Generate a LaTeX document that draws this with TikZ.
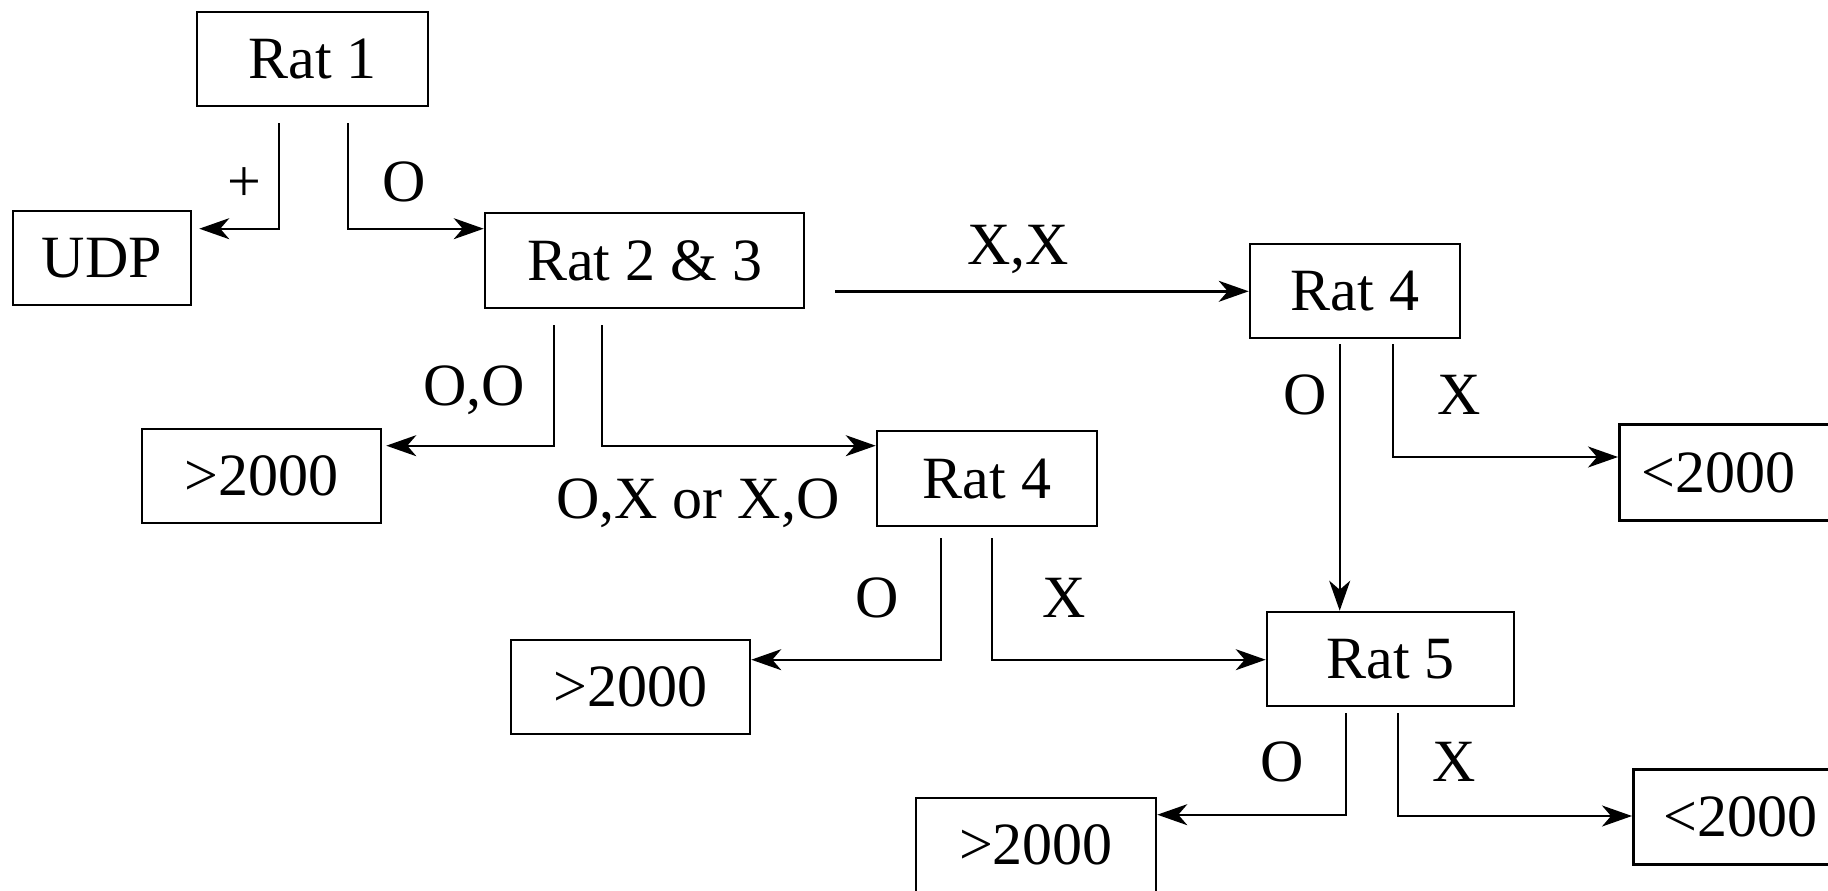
\documentclass[tikz,border=0pt]{standalone}
\usepackage{fontspec}
\setmainfont{Liberation Serif}
\usetikzlibrary{arrows.meta}
\begin{document}
\begin{tikzpicture}[x=1pt,y=-1pt,
  bigfont/.style={font=\fontsize{60}{72}\selectfont},
  box/.style={draw, line width=2.6pt, bigfont, inner sep=0pt, text depth=0pt, minimum height=94pt},
  lbl/.style={bigfont, inner sep=0pt, text depth=0pt},
  arr/.style={line width=2.4pt, -{Stealth[length=30pt,width=21pt,inset=9pt]}}]
\path[use as bounding box] (0,0) rectangle (1828,891);
\clip (0,0) rectangle (1828,891);
% boxes
\node[box, minimum width=231pt] (rat1) at (312.5,59) {Rat 1};
\node[box, minimum width=178pt] (udp) at (102,258) {UDP};
\node[box, minimum width=319pt, minimum height=95pt] (rat23) at (644.5,260.5) {Rat 2 \& 3};
\node[box, minimum width=210pt] (rat4a) at (1355,291) {Rat 4};
\node[box, minimum width=239pt] (g1) at (261.5,476) {>2000};
\node[box, minimum width=220pt, minimum height=95pt] (rat4b) at (987,478.5) {Rat 4};
\node[box, anchor=north west, minimum height=96pt, inner xsep=22pt, text width=320pt, align=left] (l1) at (1618,423) {<2000};
\node[box, minimum width=239pt] (g2) at (630.5,687) {>2000};
\node[box, minimum width=247pt] (rat5) at (1390.5,659) {Rat 5};
\node[box, minimum width=240pt] (g3) at (1036,845) {>2000};
\node[box, anchor=north west, minimum height=95pt, inner xsep=30pt, text width=320pt, align=left] (l2) at (1632,768) {<2000};
% connectors
\draw[arr, shorten >=7pt] ([xshift=83pt,yshift=-16pt]rat1.south west) |- ([yshift=-19pt]udp.north east);
\draw[arr] ([xshift=152pt,yshift=-16pt]rat1.south west) |- ([yshift=-17pt]rat23.north west);
\coordinate (s3) at ([xshift=30pt,yshift=18pt]rat23.south east);
\draw[arr] (s3) -- (s3 -| rat4a.west);
\draw[arr, shorten >=4pt] ([xshift=70pt,yshift=-16pt]rat23.south west) |- ([yshift=-18pt]g1.north east);
\draw[arr] ([xshift=118pt,yshift=-16pt]rat23.south west) |- ([yshift=-16pt]rat4b.north west);
\draw[arr] ([xshift=65pt,yshift=-11pt]rat4b.south west) |- ([yshift=-21pt]g2.north east);
\draw[arr] ([xshift=116pt,yshift=-11pt]rat4b.south west) |- ([yshift=-49pt]rat5.north west);
\coordinate (s8) at ([xshift=91pt,yshift=-5pt]rat4a.south west);
\draw[arr] (s8) -- (s8 |- rat5.north);
\draw[arr] ([xshift=144pt,yshift=-5pt]rat4a.south west) |- ([yshift=-34pt]l1.north west);
\draw[arr] ([xshift=80pt,yshift=-6pt]rat5.south west) |- ([yshift=-18pt]g3.north east);
\draw[arr] ([xshift=132pt,yshift=-6pt]rat5.south west) |- ([yshift=-48pt]l2.north west);
% labels
\node[lbl] (t1) at (244,185) {+};
\node[lbl] (t2) at (404,182) {O};
\node[lbl] (t3) at (1018,245) {X,X};
\node[lbl] (t4) at (474,386) {O,O};
\node[lbl] (t5) at (698,499) {O,X or X,O};
\node[lbl] (t6) at (877,598) {O};
\node[lbl] (t7) at (1064,598) {X};
\node[lbl] (t8) at (1305,395) {O};
\node[lbl] (t9) at (1459,395) {X};
\node[lbl] (t10) at (1282,762) {O};
\node[lbl] (t11) at (1454,762) {X};
\end{tikzpicture}
\end{document}
